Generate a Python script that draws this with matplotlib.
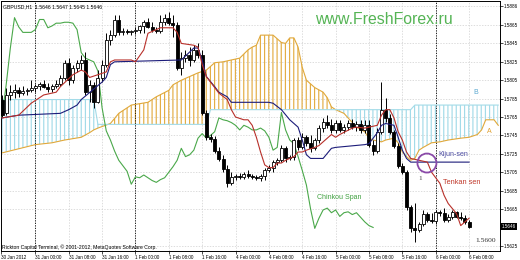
import matplotlib
matplotlib.use("Agg")
import matplotlib.pyplot as plt
import numpy as np
from matplotlib.patches import Ellipse

# GBPUSD H1, one candle per bar index
opens = [1.5784, 1.5769, 1.5789, 1.5792, 1.5794, 1.5791, 1.5793, 1.5794, 1.5797, 1.5799,
         1.5801, 1.5798, 1.5796, 1.5799, 1.5801, 1.5807, 1.5824, 1.5805, 1.5818, 1.5824,
         1.5827, 1.5792, 1.5800, 1.5781, 1.5807, 1.5822, 1.5849, 1.5854, 1.5870, 1.5857,
         1.5859, 1.5857, 1.5859, 1.5860, 1.5864, 1.5868, 1.5863, 1.5860, 1.5859, 1.5868,
         1.5873, 1.5867, 1.5865, 1.5818, 1.5829, 1.5832, 1.5827, 1.5838, 1.5832, 1.5769,
         1.5743, 1.5741, 1.5728, 1.5719, 1.5708, 1.5693, 1.5700, 1.5701, 1.5700, 1.5703,
         1.5701, 1.5700, 1.5699, 1.5701, 1.5707, 1.5710, 1.5716, 1.5718, 1.5731, 1.5720,
         1.5722, 1.5740, 1.5732, 1.5743, 1.5737, 1.5731, 1.5740, 1.5753, 1.5760, 1.5756,
         1.5751, 1.5758, 1.5751, 1.5754, 1.5758, 1.5754, 1.5757, 1.5751, 1.5756, 1.5735,
         1.5728, 1.5749, 1.5773, 1.5764, 1.5749, 1.5733, 1.5712, 1.5705, 1.5667, 1.5644,
         1.5642, 1.5649, 1.5660, 1.5653, 1.5652, 1.5662, 1.5661, 1.5653, 1.5656, 1.5662,
         1.5656, 1.5655, 1.5651]
highs = [1.5789, 1.5797, 1.5800, 1.5801, 1.5798, 1.5799, 1.5797, 1.5805, 1.5801, 1.5803,
         1.5805, 1.5802, 1.5801, 1.5805, 1.5811, 1.5827, 1.5829, 1.5822, 1.5827, 1.5832,
         1.5836, 1.5805, 1.5803, 1.5816, 1.5827, 1.5856, 1.5860, 1.5876, 1.5876, 1.5862,
         1.5861, 1.5860, 1.5863, 1.5865, 1.5870, 1.5873, 1.5868, 1.5863, 1.5876, 1.5877,
         1.5879, 1.5876, 1.5868, 1.5836, 1.5838, 1.5841, 1.5843, 1.5845, 1.5838, 1.5773,
         1.5747, 1.5744, 1.5732, 1.5724, 1.5713, 1.5705, 1.5703, 1.5704, 1.5705, 1.5707,
         1.5703, 1.5702, 1.5703, 1.5710, 1.5713, 1.5718, 1.5720, 1.5735, 1.5733, 1.5724,
         1.5742, 1.5743, 1.5748, 1.5746, 1.5746, 1.5742, 1.5756, 1.5764, 1.5767, 1.5763,
         1.5762, 1.5762, 1.5757, 1.5762, 1.5763, 1.5761, 1.5762, 1.5762, 1.5762, 1.5740,
         1.5753, 1.5803, 1.5786, 1.5768, 1.5751, 1.5737, 1.5715, 1.5707, 1.5669, 1.5672,
         1.5651, 1.5664, 1.5662, 1.5661, 1.5664, 1.5664, 1.5666, 1.5660, 1.5664, 1.5663,
         1.5662, 1.5658, 1.5653]
lows = [1.5765, 1.5767, 1.5784, 1.5786, 1.5787, 1.5789, 1.5789, 1.5792, 1.5792, 1.5794,
        1.5797, 1.5792, 1.5792, 1.5797, 1.5799, 1.5805, 1.5800, 1.5802, 1.5814, 1.5816,
        1.5789, 1.5781, 1.5775, 1.5780, 1.5803, 1.5819, 1.5843, 1.5852, 1.5854, 1.5854,
        1.5855, 1.5854, 1.5855, 1.5856, 1.5856, 1.5862, 1.5857, 1.5856, 1.5856, 1.5865,
        1.5865, 1.5852, 1.5816, 1.5811, 1.5825, 1.5820, 1.5825, 1.5829, 1.5767, 1.5740,
        1.5738, 1.5726, 1.5717, 1.5705, 1.5689, 1.5691, 1.5697, 1.5698, 1.5698, 1.5699,
        1.5698, 1.5697, 1.5695, 1.5697, 1.5705, 1.5705, 1.5713, 1.5716, 1.5716, 1.5718,
        1.5718, 1.5729, 1.5730, 1.5733, 1.5727, 1.5729, 1.5737, 1.5749, 1.5753, 1.5748,
        1.5748, 1.5749, 1.5748, 1.5751, 1.5752, 1.5750, 1.5748, 1.5748, 1.5732, 1.5724,
        1.5726, 1.5747, 1.5760, 1.5747, 1.5731, 1.5710, 1.5703, 1.5664, 1.5640, 1.5629,
        1.5640, 1.5647, 1.5651, 1.5650, 1.5649, 1.5657, 1.5651, 1.5651, 1.5654, 1.5655,
        1.5653, 1.5649, 1.5644]
closes = [1.5767, 1.5789, 1.5792, 1.5794, 1.5791, 1.5793, 1.5794, 1.5797, 1.5799, 1.5801,
          1.5798, 1.5796, 1.5799, 1.5801, 1.5807, 1.5824, 1.5805, 1.5818, 1.5824, 1.5827,
          1.5792, 1.5800, 1.5781, 1.5807, 1.5822, 1.5849, 1.5854, 1.5870, 1.5857, 1.5859,
          1.5857, 1.5859, 1.5860, 1.5864, 1.5868, 1.5863, 1.5860, 1.5859, 1.5868, 1.5873,
          1.5867, 1.5865, 1.5818, 1.5829, 1.5832, 1.5827, 1.5838, 1.5832, 1.5769, 1.5743,
          1.5741, 1.5728, 1.5719, 1.5708, 1.5693, 1.5700, 1.5701, 1.5700, 1.5703, 1.5701,
          1.5700, 1.5699, 1.5701, 1.5707, 1.5710, 1.5716, 1.5718, 1.5731, 1.5720, 1.5722,
          1.5740, 1.5732, 1.5743, 1.5737, 1.5731, 1.5740, 1.5753, 1.5760, 1.5756, 1.5751,
          1.5758, 1.5751, 1.5754, 1.5758, 1.5754, 1.5757, 1.5751, 1.5756, 1.5735, 1.5728,
          1.5749, 1.5773, 1.5764, 1.5749, 1.5733, 1.5712, 1.5705, 1.5667, 1.5644, 1.5642,
          1.5649, 1.5660, 1.5653, 1.5652, 1.5662, 1.5661, 1.5653, 1.5656, 1.5662, 1.5656,
          1.5655, 1.5651, 1.5646]

# Tenkan-sen (red)
tenkan_bars = [0, 4, 7, 10, 13, 14, 17, 19, 20, 21, 23, 25, 26, 27, 31, 32, 34, 35, 36, 38,
               41, 42, 43, 46, 47, 48, 49, 52, 54, 55, 56, 58, 59, 60, 61, 62, 63, 64, 65, 66,
               67, 68, 70, 71, 72, 73, 75, 76, 79, 80, 81, 84, 85, 87, 88, 90, 91, 92, 93, 94,
               95, 96, 97, 98, 100, 102, 103, 105, 106, 107, 109, 110, 111, 112]
tenkan = [1.5764, 1.5767, 1.5780, 1.5789, 1.5792, 1.5798, 1.5811, 1.5816, 1.5814, 1.5808,
          1.5811, 1.5814, 1.5825, 1.5827, 1.5827, 1.5825, 1.5838, 1.5856, 1.5858, 1.5862,
          1.5862, 1.5857, 1.5845, 1.5843, 1.5841, 1.5822, 1.5809, 1.5791, 1.5784, 1.5773,
          1.5765, 1.5762, 1.5762, 1.5756, 1.5743, 1.5727, 1.5713, 1.5710, 1.5710, 1.5715,
          1.5715, 1.5718, 1.5722, 1.5727, 1.5727, 1.5729, 1.5732, 1.5734, 1.5746, 1.5743,
          1.5746, 1.5753, 1.5754, 1.5753, 1.5754, 1.5756, 1.5767, 1.5773, 1.5773, 1.5764,
          1.5749, 1.5740, 1.5727, 1.5720, 1.5718, 1.5716, 1.5705, 1.5693, 1.5680, 1.5671,
          1.5660, 1.5647, 1.5651, 1.5655]

# Kijun-sen (navy)
kijun_bars = [0, 4, 14, 16, 18, 19, 24, 25, 26, 27, 43, 46, 47, 48, 49, 51, 52, 54, 55, 64,
              65, 67, 69, 71, 72, 73, 74, 77, 79, 80, 87, 88, 90, 91, 92, 94, 95, 96, 97, 98, 112]
kijun = [1.5764, 1.5767, 1.5769, 1.5773, 1.5778, 1.5784, 1.5803, 1.5808, 1.5822, 1.5825,
         1.5827, 1.5840, 1.5840, 1.5827, 1.5809, 1.5798, 1.5792, 1.5787, 1.5781, 1.5781,
         1.5780, 1.5773, 1.5762, 1.5754, 1.5740, 1.5724, 1.5720, 1.5720, 1.5731, 1.5732,
         1.5735, 1.5736, 1.5748, 1.5756, 1.5758, 1.5756, 1.5743, 1.5729, 1.5720, 1.5716, 1.5716]

# Chinkou Span (green), bars 0..89
chinkou = [1.5765, 1.5800, 1.5840, 1.5873, 1.5863, 1.5857, 1.5857, 1.5857, 1.5860, 1.5871,
           1.5871, 1.5862, 1.5864, 1.5867, 1.5867, 1.5868, 1.5868, 1.5867, 1.5860, 1.5835,
           1.5829, 1.5827, 1.5825, 1.5815, 1.5775, 1.5750, 1.5740, 1.5728, 1.5718, 1.5712,
           1.5706, 1.5692, 1.5700, 1.5699, 1.5702, 1.5699, 1.5696, 1.5694, 1.5697, 1.5699,
           1.5705, 1.5711, 1.5718, 1.5731, 1.5722, 1.5724, 1.5729, 1.5742, 1.5747, 1.5742,
           1.5745, 1.5749, 1.5764, 1.5762, 1.5761, 1.5759, 1.5756, 1.5751, 1.5756, 1.5754,
           1.5751, 1.5751, 1.5753, 1.5750, 1.5743, 1.5729, 1.5732, 1.5770, 1.5751, 1.5740,
           1.5736, 1.5722, 1.5707, 1.5691, 1.5665, 1.5644, 1.5655, 1.5664, 1.5666, 1.5661,
           1.5664, 1.5657, 1.5661, 1.5662, 1.5659, 1.5661, 1.5656, 1.5651, 1.5647, 1.5645]

# Kumo (Senkou Span A / B), shifted into the future
kumo_bars = [0, 8, 12, 15, 19, 21, 22, 23, 26, 28, 31, 35, 37, 40, 41, 43, 44, 47, 49, 50,
             51, 53, 55, 57, 59, 60, 61, 62, 65, 67, 68, 69, 70, 71, 72, 73, 75, 77, 78, 79,
             80, 82, 83, 85, 87, 88, 89, 91, 92, 94, 95, 96, 97, 98, 99, 100, 101, 103, 105, 107,
             110, 112, 114, 115, 116, 118, 119]
span_a = [1.5726, 1.5735, 1.5737, 1.5740, 1.5743, 1.5748, 1.5751, 1.5753, 1.5758, 1.5769,
          1.5778, 1.5781, 1.5787, 1.5794, 1.5800, 1.5805, 1.5807, 1.5813, 1.5816, 1.5820,
          1.5824, 1.5825, 1.5827, 1.5829, 1.5838, 1.5841, 1.5843, 1.5854, 1.5854, 1.5846,
          1.5845, 1.5851, 1.5851, 1.5841, 1.5819, 1.5805, 1.5797, 1.5792, 1.5786, 1.5776,
          1.5773, 1.5769, 1.5764, 1.5754, 1.5749, 1.5742, 1.5740, 1.5738, 1.5740, 1.5742,
          1.5737, 1.5727, 1.5722, 1.5718, 1.5720, 1.5729, 1.5732, 1.5737, 1.5738, 1.5740,
          1.5742, 1.5743, 1.5746, 1.5751, 1.5762, 1.5762, 1.5756]
span_b = [1.5784, 1.5784, 1.5784, 1.5784, 1.5784, 1.5784, 1.5784, 1.5757, 1.5757, 1.5757,
          1.5757, 1.5757, 1.5757, 1.5757, 1.5757, 1.5757, 1.5757, 1.5757, 1.5757, 1.5773,
          1.5773, 1.5773, 1.5773, 1.5773, 1.5773, 1.5773, 1.5773, 1.5773, 1.5773, 1.5773,
          1.5773, 1.5773, 1.5773, 1.5773, 1.5773, 1.5773, 1.5773, 1.5773, 1.5773, 1.5773,
          1.5773, 1.5773, 1.5773, 1.5773, 1.5773, 1.5773, 1.5773, 1.5773, 1.5773, 1.5773,
          1.5773, 1.5773, 1.5773, 1.5773, 1.5778, 1.5778, 1.5778, 1.5778, 1.5778, 1.5778,
          1.5778, 1.5778, 1.5778, 1.5778, 1.5778, 1.5778, 1.5778]

price_ticks = [1.5886, 1.5865, 1.5845, 1.5825, 1.5805, 1.5785, 1.5765, 1.5745,
               1.5725, 1.5705, 1.5685, 1.5665, 1.5625]
time_ticks = [-0.24, 8, 16, 24, 32, 40, 48, 56, 64, 72, 80, 88, 96, 104, 112]
time_labels = ["30 Jan 2012", "31 Jan 00:00", "31 Jan 08:00", "31 Jan 16:00", "1 Feb 00:00",
               "1 Feb 08:00", "1 Feb 16:00", "4 Feb 00:00", "4 Feb 08:00", "4 Feb 16:00",
               "5 Feb 00:00", "5 Feb 08:00", "5 Feb 16:00", "6 Feb 00:00", "6 Feb 08:00"]
day_breaks = [8, 32, 104]
last_price = 1.5646

plt.rcParams['font.family'] = ['Liberation Sans', 'DejaVu Sans']
plt.rcParams['hatch.linewidth'] = 0.85

fig = plt.figure(figsize=(5.2, 2.6), dpi=100)
ax = fig.add_axes([1 / 520, 9 / 260, 499 / 520, 250 / 260])
ax.set_xlim(-0.24, 119.42)
ax.set_ylim(1.56194, 1.58911)

# grid + separators
ax.set_axisbelow(True)
ax.grid(True, color='#cfcfcf', linestyle=(0, (2, 2)), linewidth=0.5)
for b in day_breaks:
    ax.axvline(b, color='black', linestyle=(0, (1.5, 1.5)), linewidth=0.6, zorder=1.5)

# cloud
kx = np.array(kumo_bars)
ka = np.array(span_a)
kb = np.array(span_b)
up_col = '#e3ad45'
dn_col = '#a3dbe8'
ax.fill_between(kx, ka, kb, where=ka >= kb, interpolate=True, facecolor='none',
                edgecolor=up_col, hatch='||||', linewidth=0, zorder=1)
ax.fill_between(kx, ka, kb, where=ka <= kb, interpolate=True, facecolor='none',
                edgecolor=dn_col, hatch='||||', linewidth=0, zorder=1)
ax.plot(kx, ka, color='#e0a83a', lw=0.8, zorder=2)
ax.plot(kx, kb, color=dn_col, lw=0.8, zorder=2)

# chinkou
ax.plot(range(len(chinkou)), chinkou, color='#4aa84a', lw=0.8, zorder=3)

# candles
o = np.array(opens)
h = np.array(highs)
l = np.array(lows)
c = np.array(closes)
bars = np.arange(len(o))
bull = c >= o
ax.vlines(bars, l, h, color='black', lw=0.7, zorder=4)
body = np.maximum(np.abs(c - o), 0.00003)
ax.bar(bars, body, bottom=np.minimum(o, c), width=0.72,
       color=np.where(bull, 'white', 'black'), edgecolor='black', linewidth=0.6, zorder=5)

# tenkan / kijun
ax.plot(kijun_bars, kijun, color='#1c1c7a', lw=0.8, zorder=6)
ax.plot(tenkan_bars, tenkan, color='#b8302a', lw=0.8, zorder=6)

# annotations
ax.add_patch(Ellipse((101.9, 1.5715), width=19 / 4.17, height=19 * 0.0001087, fill=False,
                     edgecolor='#8a4aa8', lw=1.3, zorder=8))
ax.text(100.2, 1.5698, "1", fontsize=5.2, family='Liberation Serif', color='#444444',
        ha='center', va='center')
ax.text(104.6, 1.5724, "Kijun-sen", fontsize=5.0, color='#4a4aa0', va='center')
ax.text(105.8, 1.5694, "Tenkan sen", fontsize=5.3, color='#c0392b', va='center')
ax.text(75.5, 1.5678, "Chinkou Span", fontsize=5.0, color='#3fa03f', va='center')
ax.text(113.4, 1.5631, "1.5600", fontsize=5.4, family='Liberation Serif', color='#333333',
        va='center')
ax.text(113.0, 1.5792, "B", fontsize=5, color='#5aa8d0', va='center')
ax.text(116.3, 1.5749, "A", fontsize=5, color='#e0a030', va='center')
ax.text(0.768, 0.924, "www.FreshForex.ru", transform=ax.transAxes, fontsize=11.4,
        color='#55b455', ha='center', va='center')
ax.text(0.005, 0.978, "GBPUSD,H1  1.5646 1.5647 1.5645 1.5646", transform=ax.transAxes,
        fontsize=3.7, color='black', va='center')
ax.text(0.003, 0.016, "Rickton Capital Terminal, \u00a9 2001-2012, MetaQuotes Software Corp.",
        transform=ax.transAxes, fontsize=3.7, color='black', va='center')

# axes
ax.yaxis.tick_right()
ax.set_yticks(price_ticks)
ax.set_yticklabels([f"{p:.4f}" for p in price_ticks])
ax.tick_params(axis='y', direction='out', length=2, width=0.5, pad=1, labelsize=3.3)
ax.set_xticks(time_ticks)
ax.set_xticklabels(time_labels, ha='left')
ax.tick_params(axis='x', direction='out', length=2, width=0.5, pad=1, labelsize=3.3)
ax.xaxis.get_gridlines()[0].set_visible(False)
ax.text(1.003, last_price, f"{last_price:.4f}", transform=ax.get_yaxis_transform(),
        fontsize=3.3, color='white', va='center', ha='left',
        bbox=dict(facecolor='black', edgecolor='none', pad=0.8))
for s in ax.spines.values():
    s.set_color('black')
    s.set_linewidth(0.7)

fig.savefig("out.png", dpi=100)
